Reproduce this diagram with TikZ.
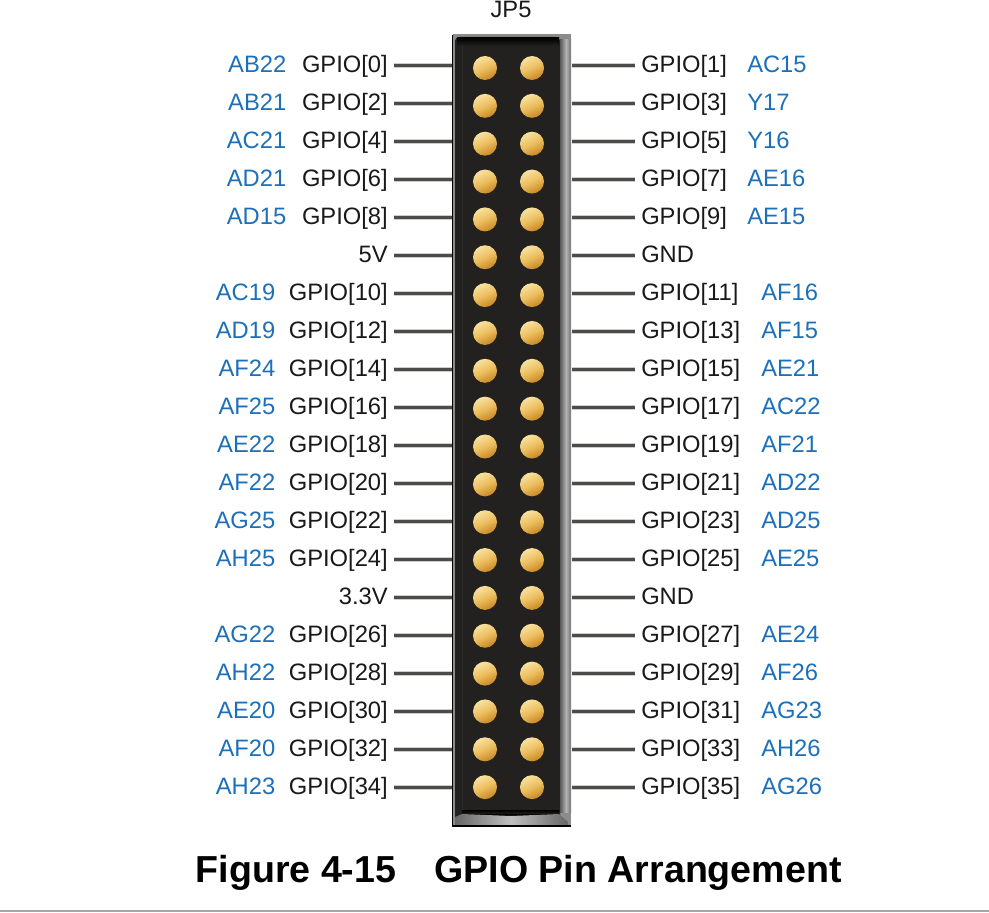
\documentclass[tikz,border=0pt]{standalone}
\usepackage{fontspec}
\setmainfont{Liberation Sans}
\definecolor{pinblue}{RGB}{28,112,186}
\definecolor{lead}{RGB}{75,75,73}
\definecolor{halo}{RGB}{205,205,205}
\definecolor{body}{RGB}{34,33,32}
\definecolor{txt}{RGB}{25,25,25}
\tikzset{
  x=.75pt,y=-.75pt,
  glabel/.style={font=\fontsize{17.8}{20}\selectfont,text=txt,inner ysep=0pt,inner xsep=4.5pt,text height=13pt,text depth=3pt},
  blabel/.style={glabel,text=pinblue},
  wire/.style={draw=lead,line width=2pt,preaction={draw=halo,line width=3.4pt}},
  pin/.style={circle,inner sep=0pt,minimum size=18pt,draw=none,
     shade,shading=axis,top color=pinpale,bottom color=pindeep,middle color=pinmid,shading angle=25},
}
\definecolor{pinpale}{RGB}{248,226,160}
\definecolor{pinmid}{RGB}{236,190,95}
\definecolor{pindeep}{RGB}{200,135,35}
\begin{document}
\begin{tikzpicture}
\useasboundingbox (0,0) rectangle (989,913);
\fill[white] (0,0) rectangle (989,913);
% header body
\node[draw=none,fill=black,minimum width=89.25pt,minimum height=593.25pt,inner sep=0pt,anchor=north west] (hdr) at (452,35) {};
\fill[black!45] (452.5,34) rectangle (571,826);
\fill[body,rounded corners=3pt] (455,37) rectangle (560,820);
\shade[top color=black,bottom color=body] (457,38) rectangle (559,46);
\fill[black!70!white,opacity=.25] (461.5,46) rectangle (462.5,812);
\shade[left color=black!65,right color=black!30] (560,40) rectangle (566,812);
\shade[left color=black!30,right color=black!55] (566,40) rectangle (571,812);
\shade[top color=black,bottom color=body] (462,810) rectangle (559,814);
\fill[black] (462,814) rectangle (559,817);
\shade[left color=black!60,right color=black!25] (455,817) -- (462,814) -- (511,816) -- (511,825) -- (455,825) -- cycle;
\shade[left color=black!25,right color=black!60] (511,816) -- (559,814) -- (568,822) -- (568,825) -- (511,825) -- cycle;
\draw[black,line width=.9pt] (452,826) -- (571,826);
\node[font=\fontsize{17.8}{20}\selectfont,text=txt,inner sep=0pt] (jp) at (511,9) {JP5};
% rows
\foreach \i/\la/\lb/\ra/\rb in {
 0/GPIO[0]/AB22/GPIO[1]/AC15,
 1/GPIO[2]/AB21/GPIO[3]/Y17,
 2/GPIO[4]/AC21/GPIO[5]/Y16,
 3/GPIO[6]/AD21/GPIO[7]/AE16,
 4/GPIO[8]/AD15/GPIO[9]/AE15,
 5/5V//GND/,
 6/GPIO[10]/AC19/GPIO[11]/AF16,
 7/GPIO[12]/AD19/GPIO[13]/AF15,
 8/GPIO[14]/AF24/GPIO[15]/AE21,
 9/GPIO[16]/AF25/GPIO[17]/AC22,
 10/GPIO[18]/AE22/GPIO[19]/AF21,
 11/GPIO[20]/AF22/GPIO[21]/AD22,
 12/GPIO[22]/AG25/GPIO[23]/AD25,
 13/GPIO[24]/AH25/GPIO[25]/AE25,
 14/3.3V//GND/,
 15/GPIO[26]/AG22/GPIO[27]/AE24,
 16/GPIO[28]/AH22/GPIO[29]/AF26,
 17/GPIO[30]/AE20/GPIO[31]/AG23,
 18/GPIO[32]/AF20/GPIO[33]/AH26,
 19/GPIO[34]/AH23/GPIO[35]/AG26}{
  \pgfmathsetmacro{\yy}{65.5+38*\i}
  \pgfmathsetmacro{\yp}{68+37.85*\i}
  \pgfmathtruncatemacro{\short}{\i<5 ? 1 : 0}
  \pgfmathsetmacro{\bl}{\short==1 ? 292.5 : 281.5}
  \pgfmathsetmacro{\br}{\short==1 ? 741 : 755}
  \node[glabel,anchor=east] (L\i) at (394,\yy) {\la};
  \node[glabel,anchor=west] (R\i) at (635,\yy) {\ra};
  \node[blabel,anchor=east] (BL\i) at (\bl,\yy) {\lb};
  \node[blabel,anchor=west] (BR\i) at (\br,\yy) {\rb};
  \draw[wire] (L\i.east) -- (L\i.east -| hdr.west);
  \draw[wire] (R\i.west) -- (R\i.west -| hdr.east);
  \node[pin] (PA\i) at (485,\yp) {};
  \node[pin] (PB\i) at (532,\yp) {};
}
\node[font=\bfseries\fontsize{28.2}{32}\selectfont,text=black,inner sep=0pt] (cap) at (518.7,873) {Figure 4-15\hspace{28.5pt}GPIO Pin Arrangement};
\draw[black!35,line width=.9pt] (0,911) -- (989,911);
\end{tikzpicture}
\end{document}
